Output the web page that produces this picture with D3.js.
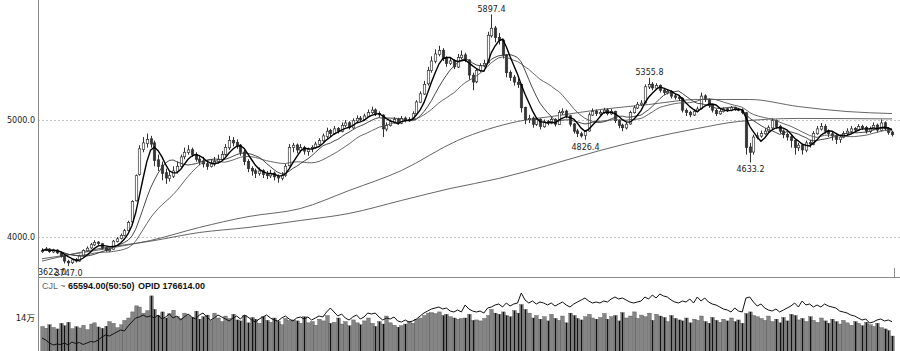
<!DOCTYPE html>
<html>
<head>
<meta charset="utf-8">
<script src="https://cdn.jsdelivr.net/npm/d3@7"></script>
<style>
html, body { margin: 0; padding: 0; background: #fff; }
svg { display: block; }
text { font-family: "DejaVu Sans", "Noto Sans CJK SC", sans-serif; }
text.legend { font-family: "Liberation Sans", Arial, sans-serif; }
</style>
</head>
<body>
<div id="chart"></div>
<script>
// daily bars: [open, high, low, close]
const ohlc = [
  [3870,3900,3860,3880],[3882,3910,3875,3895],[3893,3900,3860,3870],[3868,3895,3858,3885],[3884,3890,3850,3860],
  [3858,3865,3820,3830],[3832,3840,3770,3790],[3788,3800,3747,3775],[3776,3812,3765,3800],[3802,3815,3778,3790],
  [3790,3845,3785,3835],[3836,3890,3830,3880],[3878,3915,3870,3900],[3902,3945,3895,3930],[3928,3968,3920,3950],
  [3952,3960,3925,3940],[3938,3945,3890,3900],[3902,3910,3870,3880],[3878,3900,3868,3890],[3892,3970,3888,3960],
  [3958,3995,3950,3980],[3982,4025,3975,4010],[4008,4065,4000,4050],[4052,4135,4045,4120],[4125,4310,4120,4300],
  [4305,4530,4300,4520],[4530,4780,4520,4750],[4745,4850,4720,4800],[4795,4880,4760,4830],[4835,4860,4760,4790],
  [4800,4820,4600,4650],[4655,4700,4560,4600],[4610,4640,4480,4540],[4545,4580,4450,4500],[4495,4560,4470,4520],
  [4515,4600,4500,4560],[4555,4640,4540,4600],[4598,4700,4590,4680],[4682,4760,4660,4720],[4718,4780,4700,4740],
  [4742,4760,4680,4700],[4702,4720,4640,4660],[4662,4690,4610,4640],[4645,4680,4590,4620],[4622,4650,4570,4600],
  [4598,4660,4590,4620],[4618,4680,4600,4640],[4642,4700,4625,4660],[4658,4730,4645,4700],[4702,4790,4690,4760],
  [4758,4860,4740,4820],[4822,4850,4770,4800],[4805,4830,4750,4780],[4782,4790,4690,4720],[4722,4740,4610,4640],
  [4642,4660,4550,4580],[4582,4600,4520,4560],[4562,4580,4500,4540],[4538,4590,4520,4560],[4562,4575,4500,4530],
  [4532,4560,4490,4520],[4518,4570,4500,4540],[4542,4555,4480,4510],[4512,4530,4460,4500],[4498,4550,4480,4520],
  [4522,4620,4510,4600],[4605,4790,4600,4760],[4762,4800,4720,4780],[4782,4795,4710,4740],[4738,4790,4720,4760],
  [4762,4775,4700,4730],[4725,4760,4690,4745],[4748,4780,4720,4760],[4758,4810,4750,4790],[4788,4840,4780,4820],
  [4818,4880,4810,4860],[4855,4930,4840,4900],[4905,4920,4850,4880],[4878,4945,4870,4920],[4922,4935,4880,4900],
  [4898,4975,4890,4950],[4948,4995,4935,4970],[4972,4985,4915,4930],[4928,5010,4920,4990],[4988,5035,4975,5010],
  [5012,5030,4980,5000],[4998,5050,4990,5030],[5028,5085,5020,5060],[5058,5110,5045,5080],[5082,5095,5030,5050],
  [5052,5070,5020,5040],[5038,5045,4850,4920],[4918,4975,4900,4950],[4948,5000,4940,4980],[4978,5020,4965,5000],
  [5002,5015,4955,4970],[4968,5030,4960,5010],[5012,5025,4975,4990],[4988,5020,4980,5000],[5002,5070,4995,5050],
  [5048,5165,5040,5150],[5148,5240,5140,5220],[5218,5330,5210,5300],[5305,5450,5290,5420],[5418,5540,5400,5500],
  [5498,5600,5480,5560],[5555,5630,5540,5590],[5592,5610,5500,5520],[5522,5540,5450,5480],[5478,5530,5465,5500],
  [5502,5515,5430,5450],[5448,5560,5440,5530],[5528,5590,5515,5550],[5552,5570,5490,5510],[5508,5515,5340,5380],
  [5378,5400,5250,5320],[5322,5440,5310,5420],[5418,5480,5405,5460],[5458,5510,5445,5480],[5485,5750,5480,5720],
  [5715,5897.4,5700,5780],[5782,5800,5660,5700],[5702,5740,5640,5680],[5678,5690,5520,5550],[5552,5560,5360,5400],
  [5402,5420,5330,5360],[5362,5380,5290,5320],[5318,5350,5270,5300],[5298,5305,5060,5100],[5102,5110,4960,5000],
  [4998,5040,4970,5010],[5012,5025,4930,4960],[4958,5020,4945,5000],[5002,5010,4915,4940],[4938,5000,4930,4980],
  [4982,4995,4950,4970],[4968,5020,4960,5000],[5002,5010,4940,4960],[4958,5080,4955,5060],[5058,5095,5040,5070],
  [5072,5085,5010,5030],[5032,5040,4940,4960],[4962,4970,4880,4900],[4902,4920,4850,4880],[4878,4895,4845,4860],
  [4862,4910,4826.4,4900],[4902,5060,4895,5040],[5038,5095,5030,5070],[5072,5085,5030,5050],[5048,5080,5035,5060],
  [5058,5100,5050,5080],[5082,5095,5035,5050],[5048,5090,5040,5070],[5068,5075,4970,4990],[4992,5000,4925,4950],
  [4952,4965,4900,4930],[4928,4980,4915,4960],[4962,5075,4955,5060],[5058,5120,5050,5100],[5098,5150,5090,5130],
  [5128,5165,5115,5140],[5142,5300,5135,5280],[5278,5355.8,5260,5300],[5302,5320,5250,5270],[5268,5310,5255,5290],
  [5292,5300,5230,5250],[5252,5270,5210,5230],[5228,5260,5215,5240],[5242,5250,5180,5200],[5202,5220,5170,5190],
  [5192,5210,5160,5180],[5182,5190,5060,5080],[5078,5095,5030,5060],[5062,5075,5020,5040],[5038,5090,5030,5070],
  [5068,5110,5060,5090],[5092,5230,5085,5200],[5202,5215,5150,5170],[5168,5180,5100,5120],[5122,5130,5060,5080],
  [5078,5090,5030,5050],[5048,5090,5040,5070],[5068,5105,5060,5090],[5092,5100,5065,5080],[5078,5115,5070,5100],
  [5102,5110,5075,5090],[5088,5100,5070,5080],[5082,5095,5045,5060],[5058,5065,4700,4760],[4765,4800,4633.2,4720],
  [4722,4870,4700,4850],[4848,4890,4830,4860],[4858,4905,4845,4880],[4878,4925,4870,4900],[4902,4950,4890,4930],
  [4928,5010,4920,4990],[4992,5000,4920,4940],[4942,4955,4880,4900],[4902,4915,4840,4870],[4872,4890,4820,4850],
  [4852,4865,4760,4820],[4822,4830,4700,4760],[4758,4800,4730,4780],[4782,4795,4700,4740],[4738,4820,4720,4800],
  [4802,4825,4760,4790],[4788,4900,4780,4880],[4878,4945,4870,4920],[4918,4970,4905,4940],[4942,4960,4880,4900],
  [4902,4915,4850,4880],[4878,4900,4820,4860],[4862,4875,4790,4830],[4828,4870,4800,4850],[4848,4900,4840,4880],
  [4878,4925,4865,4900],[4898,4945,4885,4920],[4922,4935,4890,4910],[4908,4960,4900,4940],[4942,4955,4910,4930],
  [4932,4945,4880,4900],[4898,4940,4885,4920],[4918,4975,4910,4950],[4952,4965,4890,4910],[4908,5000,4900,4970],
  [4972,4985,4905,4920],[4922,4935,4870,4890],[4892,4905,4855,4870]
];

// volume (CJL) per bar
const volume = [
  105000,98000,112000,101000,95000,118000,108000,122000,96000,104000,
  99000,110000,92000,115000,120000,103000,97000,106000,125000,118000,
  100000,112000,130000,140000,165000,190000,185000,160000,170000,231000,
  175000,150000,165000,140000,158000,172000,145000,138000,160000,150000,
  142000,168000,135000,145000,152000,130000,160000,140000,125000,148000,
  138000,155000,132000,128000,150000,120000,142000,135000,118000,145000,
  130000,122000,140000,126000,112000,138000,130000,132000,128000,118000,
  145000,120000,125000,110000,135000,128000,150000,118000,122000,140000,
  115000,125000,108000,132000,120000,112000,128000,140000,118000,105000,
  125000,115000,148000,120000,110000,102000,108000,115000,125000,118000,
  135000,140000,150000,160000,162000,158000,165000,150000,155000,145000,
  140000,135000,138000,140000,155000,130000,132000,128000,138000,150000,
  175000,160000,155000,165000,150000,145000,170000,160000,195000,175000,
  160000,140000,150000,135000,145000,128000,155000,138000,130000,148000,
  120000,160000,150000,138000,132000,145000,155000,140000,135000,142000,
  158000,135000,145000,150000,128000,162000,140000,148000,165000,138000,
  152000,145000,160000,130000,155000,148000,142000,125000,150000,138000,
  132000,128000,140000,120000,135000,130000,148000,125000,118000,142000,
  130000,122000,135000,128000,140000,125000,132000,118000,158000,165000,
  150000,145000,138000,130000,148000,125000,135000,120000,142000,128000,
  155000,150000,132000,138000,125000,145000,130000,122000,140000,128000,
  118000,135000,125000,115000,130000,120000,110000,125000,118000,108000,
  122000,112000,105000,118000,100000,95000,88000,65594
];

// open interest (OPID) per bar
const openInterest = [
  144000,140000,134000,130000,132000,131000,134000,130000,136000,133000,
  135000,131000,134000,137000,136000,140000,146000,150000,148000,152000,
  156000,160000,158000,168000,176000,184000,186000,190000,186000,188000,
  184000,190000,182000,186000,192000,184000,188000,180000,186000,192000,
  186000,182000,190000,194000,186000,180000,184000,190000,186000,182000,
  178000,184000,188000,182000,190000,186000,180000,176000,182000,186000,
  190000,184000,180000,178000,184000,188000,182000,178000,184000,186000,
  182000,186000,180000,184000,188000,186000,196000,204000,196000,188000,
  192000,184000,180000,186000,190000,182000,186000,194000,192000,194000,
  186000,180000,184000,182000,186000,178000,176000,180000,176000,178000,
  182000,188000,194000,198000,202000,204000,206000,202000,204000,198000,
  196000,200000,196000,210000,202000,198000,196000,198000,194000,204000,
  206000,210000,212000,206000,214000,208000,212000,214000,234000,220000,
  214000,218000,212000,216000,214000,210000,214000,208000,212000,216000,
  210000,206000,212000,216000,220000,224000,218000,214000,216000,214000,
  218000,216000,222000,226000,222000,224000,220000,216000,214000,216000,
  218000,226000,222000,230000,224000,232000,228000,226000,220000,216000,
  214000,218000,216000,222000,214000,226000,218000,224000,216000,212000,
  210000,206000,202000,200000,196000,204000,198000,196000,224000,226000,
  216000,208000,212000,204000,200000,198000,202000,196000,200000,204000,
  208000,214000,206000,218000,210000,212000,206000,210000,206000,212000,
  208000,206000,204000,198000,196000,194000,190000,188000,184000,180000,
  182000,174000,176000,180000,182000,178000,180000,176614
];

// long moving averages: [bar, value]
const longMaA = [[0,3810],[18,3900],[29,3966],[42,4077],[55,4170],[69,4239],[82,4393],[96,4564],
  [111,4821],[127,4983],[138,5034],[149,5085],[162,5128],[175,5171],[189,5171],[202,5111],[215,5068],[227,5051]];
const longMaB = [[0,3790],[15,3895],[29,3960],[42,4034],[55,4077],[69,4137],[82,4197],[96,4308],
  [109,4410],[122,4496],[135,4607],[149,4735],[162,4838],[175,4923],[186,4983],[202,5009],[227,5005]];

const maPeriods = [5, 10, 20];
const priceTicks = [4000, 5000];
const volTicks = [140000];
const floorLabel = 3622.0;

// marked extremes
const extremes = [
  {bar: 120, value: 5897.4, side: "high"},
  {bar: 162, value: 5355.8, side: "high"},
  {bar: 145, value: 4826.4, side: "low"},
  {bar: 189, value: 4633.2, side: "low"},
  {bar: 7, value: 3747.0, side: "low"}
];

const W = 900, H = 351;
const left = 38, mainBottom = 277;

const svg = d3.select("#chart").append("svg")
    .attr("width", W)
    .attr("height", H);

const x = d3.scaleLinear().domain([0, ohlc.length - 1]).range([42, 892]);
const y = d3.scaleLinear().domain([4000, 5000]).range([236.5, 119.5]);
const yVol = d3.scaleLinear().domain([0, 140000]).range([352, 318]);
const yOi = d3.scaleLinear().domain([120000, 240000]).range([350, 290]);
const px = i => Math.round(x(i)) + 0.5;
const fmt = d3.format(".1f");
const isUp = i => ohlc[i][3] >= ohlc[i][0];

svg.append("defs").append("clipPath").attr("id", "mainClip")
  .append("rect").attr("x", left).attr("y", 0).attr("width", W - left).attr("height", mainBottom);
svg.append("defs").append("clipPath").attr("id", "volClip")
  .append("rect").attr("x", left + 1).attr("y", mainBottom + 1).attr("width", W - left).attr("height", H - mainBottom);

// grid lines
svg.append("g").selectAll("line").data(priceTicks).join("line")
    .attr("x1", left).attr("x2", W)
    .attr("y1", d => Math.round(y(d)) + 0.5).attr("y2", d => Math.round(y(d)) + 0.5)
    .attr("stroke", "#c4c4c4")
    .attr("stroke-dasharray", "2,2");

// price axis labels
const yAxis = svg.append("g").attr("transform", `translate(${left},0)`)
    .call(d3.axisLeft(y).tickValues(priceTicks).tickFormat(fmt).tickSize(0).tickPadding(3));
yAxis.select(".domain").remove();
yAxis.selectAll("text").attr("font-size", 8).attr("fill", "#222")
    .style("font-family", "'DejaVu Sans', sans-serif");

// volume axis label
const vAxis = svg.append("g").attr("transform", `translate(${left},0)`)
    .call(d3.axisLeft(yVol).tickValues(volTicks).tickFormat(d => (d / 10000) + "万").tickSize(0).tickPadding(3));
vAxis.select(".domain").remove();
vAxis.selectAll("text").attr("font-size", 8.5).attr("fill", "#222")
    .style("font-family", "'DejaVu Sans', 'Noto Sans CJK SC', sans-serif");

// main panel
const plot = svg.append("g").attr("clip-path", "url(#mainClip)");

// long moving averages
const longLine = d3.line()
    .x(d => x(d[0]))
    .y(d => y(d[1]))
    .curve(d3.curveMonotoneX);
[longMaA, longMaB].forEach(series => {
  plot.append("path")
      .attr("d", longLine(series))
      .attr("fill", "none")
      .attr("stroke", "#555")
      .attr("stroke-width", 0.9);
});

// candles
const candle = plot.append("g").selectAll("g").data(ohlc).join("g");
candle.append("line")
    .attr("x1", (d, i) => px(i)).attr("x2", (d, i) => px(i))
    .attr("y1", d => y(d[1])).attr("y2", d => y(d[2]))
    .attr("stroke", "#333")
    .attr("stroke-width", 1);
candle.append("rect")
    .attr("x", (d, i) => px(i) - 1.2)
    .attr("width", 2.4)
    .attr("y", d => y(Math.max(d[0], d[3])))
    .attr("height", d => Math.max(1, Math.abs(y(d[0]) - y(d[3]))))
    .attr("fill", (d, i) => isUp(i) ? "#fff" : "#333")
    .attr("stroke", "#333")
    .attr("stroke-width", 0.7);

// short moving averages computed from closes
const closes = ohlc.map(d => d[3]);
const movingAvg = n => closes.map((c, i) => d3.mean(closes.slice(Math.max(0, i - n + 1), i + 1)));
const maLine = d3.line().x((d, i) => x(i)).y(d => y(d));
const maStyle = {5: ["#000", 1.4], 10: ["#333", 0.9], 20: ["#555", 0.9]};
maPeriods.slice().reverse().forEach(n => {
  plot.append("path")
      .attr("d", maLine(movingAvg(n)))
      .attr("fill", "none")
      .attr("stroke", maStyle[n][0])
      .attr("stroke-width", maStyle[n][1]);
});

// extreme labels
svg.append("g").selectAll("text").data(extremes).join("text")
    .attr("x", d => px(d.bar))
    .attr("y", d => d.side === "high" ? y(d.value) - 2.5 : y(d.value) + 10)
    .attr("text-anchor", "middle")
    .attr("font-size", 8)
    .attr("fill", "#222")
    .text(d => fmt(d.value));

svg.append("text")
    .attr("x", left)
    .attr("y", 275)
    .attr("font-size", 8)
    .attr("fill", "#222")
    .text(fmt(floorLabel));

// volume panel
const volBars = volume.map((v, i) => ({v, i, up: isUp(i)}));
const vol = svg.append("g").attr("clip-path", "url(#volClip)");
vol.append("g").selectAll("rect").data(volBars).join("rect")
    .attr("x", d => px(d.i) - 1.7)
    .attr("width", 3.4)
    .attr("y", d => yVol(d.v))
    .attr("height", d => H + 10 - yVol(d.v))
    .attr("fill", "#858585")
    .attr("stroke", "#4a4a4a")
    .attr("stroke-width", 0.4);
vol.append("g").selectAll("rect").data(volBars.filter(d => !d.up)).join("rect")
    .attr("x", d => px(d.i) - 0.6)
    .attr("width", 1.2)
    .attr("y", d => yVol(d.v))
    .attr("height", d => H + 10 - yVol(d.v))
    .attr("fill", "#111");

const oiLine = d3.line().x((d, i) => x(i)).y(d => yOi(d));
vol.append("path")
    .attr("d", oiLine(openInterest))
    .attr("fill", "none")
    .attr("stroke", "#111")
    .attr("stroke-width", 1);

// legend
const legend = svg.append("g");
legend.append("text").attr("class", "legend").attr("x", 42).attr("y", 289)
    .attr("font-size", 9).attr("fill", "#666").text("CJL ~");
legend.append("text").attr("class", "legend").attr("x", 68).attr("y", 289)
    .attr("font-size", 9).attr("fill", "#111").attr("font-weight", "bold")
    .text(d3.format(".2f")(volume[volume.length - 1]) + "(50:50)");
legend.append("text").attr("class", "legend").attr("x", 138).attr("y", 289)
    .attr("font-size", 9).attr("fill", "#111").attr("font-weight", "bold")
    .text("OPID " + d3.format(".2f")(openInterest[openInterest.length - 1]));

// frame
svg.append("line").attr("x1", left + 0.5).attr("x2", left + 0.5).attr("y1", 0).attr("y2", H)
    .attr("stroke", "#8a8a8a");
svg.append("line").attr("x1", left).attr("x2", W).attr("y1", mainBottom + 0.5).attr("y2", mainBottom + 0.5)
    .attr("stroke", "#8a8a8a");
svg.append("line").attr("x1", 894.5).attr("x2", 894.5).attr("y1", 268).attr("y2", mainBottom)
    .attr("stroke", "#8a8a8a");
</script>
</body>
</html>
